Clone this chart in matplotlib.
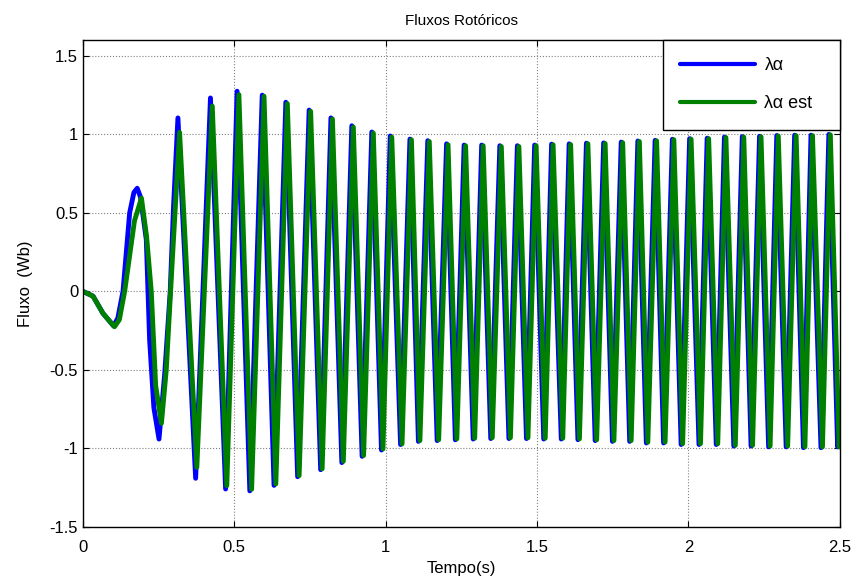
import matplotlib
matplotlib.use("Agg")
import matplotlib.pyplot as plt

plt.rcParams['font.family'] = ['Liberation Sans', 'DejaVu Sans']

# extrema (and a few shape points at start)
t_blue = [0, 0.033, 0.066, 0.101, 0.115, 0.132, 0.154, 0.168, 0.179, 0.19, 0.209, 0.22, 0.234,
          0.251, 0.27, 0.288, 0.299, 0.3135, 0.372, 0.421, 0.471, 0.509, 0.551, 0.592, 0.631,
          0.670, 0.709, 0.747, 0.785, 0.819, 0.855, 0.888, 0.922, 0.954, 0.986, 1.015, 1.049,
          1.080, 1.108, 1.139, 1.170, 1.201, 1.230, 1.259, 1.289, 1.317, 1.347, 1.377, 1.407,
          1.435, 1.465, 1.492, 1.522, 1.548, 1.580, 1.606, 1.635, 1.663, 1.692, 1.720, 1.749,
          1.778, 1.806, 1.833, 1.861, 1.890, 1.918, 1.947, 1.976, 2.004, 2.035, 2.062, 2.092,
          2.119, 2.150, 2.178, 2.207, 2.235, 2.265, 2.292, 2.323, 2.351, 2.380, 2.405, 2.438,
          2.464, 2.493, 2.5]
y_blue = [0, -0.03, -0.14, -0.22, -0.17, 0.0, 0.5, 0.63, 0.657, 0.6, 0.33, -0.31, -0.74,
          -0.94, -0.52, 0.0, 0.54, 1.105, -1.19, 1.232, -1.258, 1.275, -1.27, 1.25, -1.235,
          1.205, -1.18, 1.155, -1.135, 1.105, -1.09, 1.055, -1.05, 1.015, -1.01, 0.99, -0.975,
          0.97, -0.955, 0.96, -0.95, 0.94, -0.945, 0.932, -0.94, 0.932, -0.937, 0.928, -0.937,
          0.928, -0.937, 0.932, -0.94, 0.938, -0.94, 0.94, -0.944, 0.944, -0.95, 0.946, -0.955,
          0.951, -0.955, 0.958, -0.965, 0.962, -0.965, 0.969, -0.975, 0.973, -0.975, 0.976, -0.975,
          0.983, -0.985, 0.986, -0.985, 0.988, -0.99, 0.993, -0.99, 0.995, -0.995, 0.995, -0.995,
          1.0, -0.99, -0.65]

t_est = [0, 0.033, 0.066, 0.104, 0.12, 0.1375, 0.17, 0.193, 0.21, 0.2255, 0.24, 0.259, 0.275,
         0.295, 0.319, 0.376, 0.427, 0.475, 0.515, 0.557, 0.598, 0.637, 0.675, 0.714, 0.752,
         0.790, 0.824, 0.860, 0.893, 0.927, 0.959, 0.991, 1.020, 1.054, 1.085, 1.113, 1.144,
         1.175, 1.206, 1.235, 1.264, 1.294, 1.322, 1.352, 1.382, 1.412, 1.440, 1.470, 1.497,
         1.527, 1.553, 1.585, 1.611, 1.640, 1.668, 1.697, 1.725, 1.754, 1.783, 1.811, 1.838,
         1.866, 1.895, 1.923, 1.952, 1.981, 2.009, 2.040, 2.067, 2.097, 2.124, 2.155, 2.183,
         2.212, 2.240, 2.270, 2.297, 2.328, 2.356, 2.385, 2.410, 2.443, 2.469, 2.498, 2.5]
y_est = [0, -0.03, -0.14, -0.225, -0.18, 0.0, 0.45, 0.594, 0.35, 0.0, -0.6, -0.84, -0.5,
         0.2, 1.013, -1.12, 1.18, -1.237, 1.253, -1.26, 1.243, -1.226, 1.196, -1.173, 1.147,
         -1.13, 1.098, -1.082, 1.047, -1.045, 1.009, -1.003, 0.983, -0.971, 0.966, -0.95, 0.955,
         -0.945, 0.934, -0.939, 0.928, -0.935, 0.928, -0.932, 0.923, -0.932, 0.923, -0.932, 0.928,
         -0.935, 0.934, -0.935, 0.935, -0.939, 0.94, -0.945, 0.942, -0.95, 0.947, -0.95, 0.955,
         -0.96, 0.959, -0.96, 0.966, -0.97, 0.97, -0.97, 0.973, -0.97, 0.98, -0.98, 0.983,
         -0.98, 0.985, -0.985, 0.99, -0.985, 0.992, -0.99, 0.992, -0.99, 0.997, -0.99, -0.97]

x_ticks = [0, 0.5, 1, 1.5, 2, 2.5]
x_labels = ['0', '0.5', '1', '1.5', '2', '2.5']
y_ticks = [-1.5, -1, -0.5, 0, 0.5, 1, 1.5]
y_labels = ['-1.5', '-1', '-0.5', '0', '0.5', '1', '1.5']

fig = plt.figure(figsize=(8.56, 5.82), dpi=100)
ax = fig.add_axes([0.097, 0.0945, 0.884, 0.8365])

ax.plot(t_blue, y_blue, color='#0000ff', lw=3.5, label='λα',
        solid_joinstyle='round', solid_capstyle='round')
ax.plot(t_est, y_est, color='#008000', lw=3.5, label='λα est  ',
        solid_joinstyle='round', solid_capstyle='round')

ax.set_xlim(0, 2.5)
ax.set_ylim(-1.5, 1.6)
ax.set_xticks(x_ticks)
ax.set_xticklabels(x_labels)
ax.set_yticks(y_ticks)
ax.set_yticklabels(y_labels)
ax.tick_params(direction='in', length=4, top=True, right=True, labelsize=12, colors='black')
ax.tick_params(axis='x', pad=9)
ax.grid(True, linestyle=':', color='#808080', linewidth=0.8)
for s in ax.spines.values():
    s.set_linewidth(1.0)

ax.set_title('Fluxos Rotóricos', fontsize=11, pad=11)
ax.set_xlabel('Tempo(s)', fontsize=12, labelpad=5)
ax.set_ylabel('Fluxo  (Wb)', fontsize=12, labelpad=12)

leg = ax.legend(loc='upper right', fontsize=13, handlelength=4.1, handletextpad=0.55,
                borderaxespad=0, fancybox=False, edgecolor='black', framealpha=1,
                labelspacing=1.17, borderpad=0.95)
leg.get_frame().set_linewidth(1.0)
for line in leg.get_lines():
    line.set_linewidth(3.0)

fig.savefig('out.png', dpi=100)
